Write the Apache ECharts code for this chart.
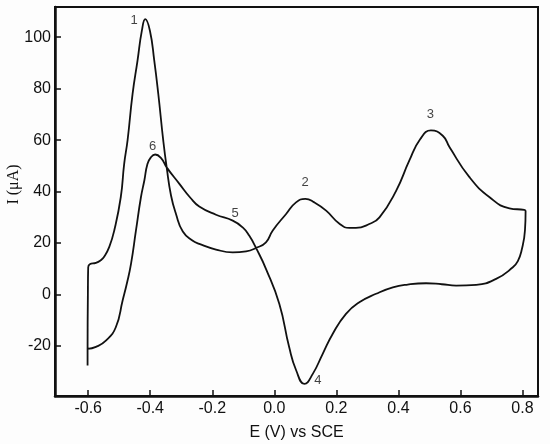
<!DOCTYPE html>
<html>
<head>
<meta charset="utf-8">
<script src="https://cdn.jsdelivr.net/npm/echarts@6/dist/echarts.min.js"></script>
<style>
html, body { margin: 0; padding: 0; background: #fdfdfd; }
#main { width: 550px; height: 444px; }
</style>
</head>
<body>
<div id="main"></div>
<script>
var myChart = echarts.init(document.getElementById('main'));

// potential (V vs SCE) along the scan: forward sweep then reverse sweep
var potential = [
	-0.602, -0.602, -0.601, -0.600, -0.595, -0.575, -0.560, -0.548, -0.532, -0.516,
	-0.495, -0.484, -0.473, -0.457, -0.441, -0.427, -0.416, -0.401, -0.387, -0.374,
	-0.358, -0.347, -0.333, -0.317, -0.295, -0.264, -0.242, -0.188, -0.134, -0.091,
	-0.059, -0.027, -0.005, 0.038, 0.070, 0.100, 0.129, 0.167, 0.210, 0.242,
	0.263, 0.306, 0.339, 0.393, 0.435, 0.470, 0.505, 0.543, 0.565, 0.629,
	0.694, 0.758, 0.806, 0.810,
	0.808, 0.797, 0.785, 0.769, 0.715, 0.651, 0.586, 0.540, 0.489, 0.430,
	0.382, 0.328, 0.274, 0.231, 0.188, 0.156, 0.124, 0.097, 0.070, 0.048,
	0.016, -0.027, -0.059, -0.081, -0.102, -0.134, -0.188, -0.242, -0.270, -0.306,
	-0.347, -0.365, -0.384, -0.398, -0.409, -0.419, -0.430, -0.446, -0.462, -0.475,
	-0.489, -0.511, -0.543, -0.575, -0.602
];
// current (µA)
var current = [
	-27.6, -21, 0, 10.5, 11.8, 12.3, 13.3, 14.8, 18.5, 24.9,
	37.8, 50.8, 60, 77.9, 90.9, 102.5, 107, 102.5, 90.9, 77.9,
	59.8, 49.4, 38.5, 31.3, 24.5, 21, 19.7, 17.5, 16.4, 16.8,
	18.1, 20.3, 24.9, 31.3, 35.8, 37.2, 35.8, 32.6, 27.5, 25.9,
	25.9, 27.4, 30, 40.4, 52, 60.3, 63.8, 61.7, 57.2, 45.6,
	37.8, 33.5, 32.9, 32.5,
	25, 17.1, 13, 10.6, 6.1, 3.8, 3.5, 4, 4.4, 3.9,
	2.8, 0.3, -3, -7.5, -15.3, -23, -30.8, -34.7, -29.3, -20.5,
	-3.6, 10, 18.1, 22.9, 26.1, 28.7, 31, 34.2, 37.5, 43,
	49.4, 53, 54.4, 53.3, 50.7, 44.3, 37.8, 24.9, 11.9, 4.5,
	-2.3, -12.7, -17.9, -20.3, -21.1
];

// peak numbers
var peakNames = ['1', '2', '3', '4', '5', '6'];
var peakE = [-0.452, 0.099, 0.503, 0.14, -0.126, -0.392];
var peakI = [106.4, 43.6, 69.8, -33.5, 31.7, 57.6];

var curve = [];
for (let i = 0; i < potential.length; i++) {
	curve.push([potential[i], current[i]]);
}
var peaks = [];
for (let i = 0; i < peakNames.length; i++) {
	peaks.push([peakE[i], peakI[i], peakNames[i]]);
}

var tickFont = { fontFamily: 'Liberation Sans', fontSize: 16, color: '#111' };

option = {
	backgroundColor: '#fdfdfd',
	animation: false,
	grid: {
		left: 55,
		right: 12,
		top: 7,
		bottom: 48,
		outerBoundsMode: 'none',
		containLabel: false,
		show: true,
		borderColor: '#111',
		borderWidth: 2
	},
	xAxis: {
		type: 'value',
		min: -0.707,
		max: 0.85,
		splitNumber: 8,
		name: 'E (V) vs SCE',
		nameLocation: 'middle',
		nameGap: 29,
		nameMoveOverlap: false,
		nameTextStyle: { fontFamily: 'Liberation Sans', fontSize: 16, color: '#111' },
		axisLine: { onZero: false, lineStyle: { color: '#111', width: 2.5 } },
		axisTick: { inside: true, length: 6, lineStyle: { color: '#111', width: 1.5 } },
		axisLabel: Object.assign({
			margin: 5,
			showMinLabel: false,
			showMaxLabel: false,
			formatter: function (v) { return v.toFixed(1); }
		}, tickFont),
		splitLine: { show: false }
	},
	yAxis: {
		type: 'value',
		min: -39.4,
		max: 111.7,
		splitNumber: 8,
		name: 'I (μA)',
		nameLocation: 'middle',
		nameGap: 33,
		nameMoveOverlap: false,
		nameTextStyle: { fontFamily: 'Liberation Serif', fontSize: 16, color: '#111', padding: [0, 0, 0, 34] },
		axisLine: { onZero: false, lineStyle: { color: '#111', width: 2.5 } },
		axisTick: { inside: true, length: 6, lineStyle: { color: '#111', width: 1.5 } },
		axisLabel: Object.assign({
			margin: 4,
			showMinLabel: false,
			showMaxLabel: false
		}, tickFont),
		splitLine: { show: false }
	},
	series: [{
		type: 'line',
		data: curve,
		smooth: 0.5,
		symbol: 'none',
		lineStyle: { color: '#111', width: 1.8 }
	}, {
		type: 'scatter',
		data: peaks,
		symbolSize: 0,
		label: {
			show: true,
			position: 'inside',
			formatter: function (p) { return p.value[2]; },
			fontFamily: 'Liberation Sans',
			fontSize: 13,
			color: '#111'
		}
	}]
};
myChart.setOption(option);
</script>
</body>
</html>
